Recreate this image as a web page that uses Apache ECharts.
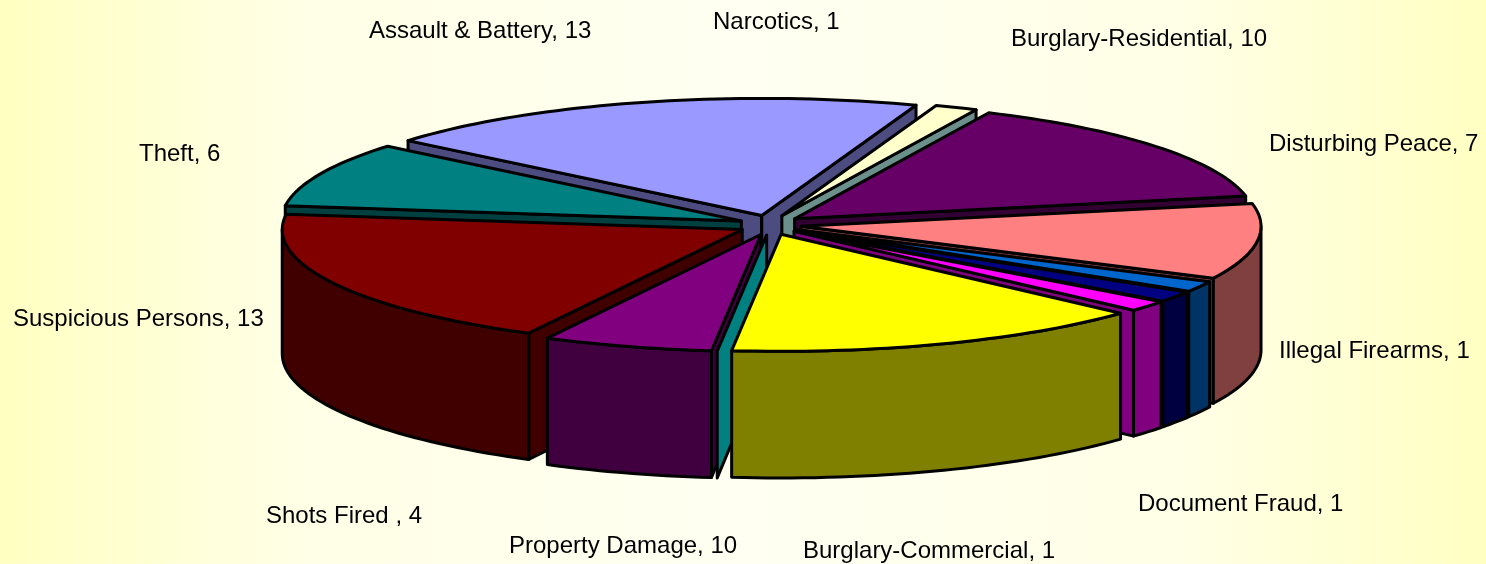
<!DOCTYPE html>
<html>
<head>
<meta charset="utf-8">
<style>
  html, body { margin: 0; padding: 0; }
  #chart { width: 1486px; height: 564px; }
</style>
<script src="https://cdn.jsdelivr.net/npm/echarts@6/dist/echarts.min.js"></script>
</head>
<body>
<div id="chart"></div>
<script>
// clockwise from the narrow cream slice at the back
// the cyan slice has no label and no width, only its side wall shows
const categories = ['Narcotics', 'Burglary-Residential', 'Disturbing Peace', 'Illegal Firearms',
  'Document Fraud', 'Burglary-Commercial', 'Property Damage', '', 'Shots Fired ',
  'Suspicious Persons', 'Theft', 'Assault & Battery']
const values = [1, 10, 7, 1, 1, 1, 10, 0, 4, 13, 6, 13]

const topColors = ['#FFFFCC', '#660066', '#FF8080', '#0066CC', '#000080', '#FF00FF',
  '#FFFF00', '#00FFFF', '#800080', '#800000', '#008080', '#9999FF']
const wallColors = ['#6B8F8A', '#330033', '#804040', '#003366', '#000040', '#800080',
  '#808000', '#008080', '#400040', '#400000', '#004040', '#4C4C80']

// paint order, back to front
const drawOrder = [11, 0, 1, 10, 2, 9, 3, 4, 5, 8, 7, 6]

// label anchors (left, middle) in page pixels
const labelX = [713, 1011, 1269, 1279, 1138, 803, 509, 0, 266, 13, 139, 369]
const labelY = [22, 39, 144, 351, 504, 551, 546, 0, 516, 319, 154, 31]

const startAngle = 19.6
const centerX = 770
const centerY = 225
const radiusX = 460
const radiusY = 117
const depth = 124
const explodeX = 0.068
const explodeY = 0.085
const depthGrow = 0.02
const arcStep = 1.5

const total = values.reduce((a, b) => a + b, 0)
const rad = d => d * Math.PI / 180

const startAngles = []
let acc = startAngle
values.forEach(v => {
  startAngles.push(acc)
  acc += v / total * 360
})

const renderSlice = (params, api) => {
  const i = api.value(0)
  const value = api.value(1)
  const a0 = startAngles[i]
  const a1 = a0 + value / total * 360
  const mid = rad((a0 + a1) / 2)
  const ox = explodeX * Math.sin(mid)
  const oy = -explodeY * Math.cos(mid)

  // r, angle (deg), drop from top face
  const project = (r, a, h) => {
    const X = ox + r * Math.sin(rad(a))
    const Y = oy - r * Math.cos(rad(a))
    return [centerX + radiusX * X, centerY + radiusY * Y + h * (1 + depthGrow * Y)]
  }

  const arc = (from, to, h) => {
    const pts = []
    const n = Math.max(1, Math.ceil((to - from) / arcStep))
    for (let k = 0; k <= n; k++) pts.push(project(1, from + (to - from) * k / n, h))
    return pts
  }

  const order = params.dataIndex * 5
  const poly = (points, fill, z) => ({
    type: 'polygon',
    z2: order + z,
    shape: { points },
    style: { fill, stroke: '#000', lineWidth: 3, lineJoin: 'round' }
  })

  const children = []
  // radial side walls that face the viewer
  if (Math.sin(rad(a0)) < 0) {
    children.push(poly([project(0, a0, 0), project(1, a0, 0), project(1, a0, depth), project(0, a0, depth)], wallColors[i], 0))
  }
  if (Math.sin(rad(a1)) > 0) {
    children.push(poly([project(0, a1, 0), project(1, a1, 0), project(1, a1, depth), project(0, a1, depth)], wallColors[i], 1))
  }
  // rim, front half only
  const rimFrom = Math.max(a0, 90)
  const rimTo = Math.min(a1, 270)
  if (rimTo > rimFrom) {
    children.push(poly(arc(rimFrom, rimTo, 0).concat(arc(rimFrom, rimTo, depth).reverse()), wallColors[i], 2))
  }
  // top face, nothing to fill for the zero slice
  if (value > 0) {
    children.push(poly([project(0, a0, 0)].concat(arc(a0, a1, 0)), topColors[i], 3))
  }

  return { type: 'group', children }
}

const chart = echarts.init(document.getElementById('chart'))

chart.setOption({
  animation: false,
  backgroundColor: new echarts.graphic.LinearGradient(0, 0, 1, 0, [
    { offset: 0, color: '#FFFFC2' },
    { offset: 0.2, color: '#FFFFE6' },
    { offset: 0.5, color: '#FFFFF2' },
    { offset: 0.8, color: '#FFFFE6' },
    { offset: 1, color: '#FFFFC2' }
  ]),
  series: [{
    type: 'custom',
    coordinateSystem: 'none',
    renderItem: renderSlice,
    data: drawOrder.map(i => [i, values[i]]),
    silent: true
  }],
  graphic: categories.filter(name => name !== '').map(name => {
    const i = categories.indexOf(name)
    return {
      type: 'text',
      x: labelX[i],
      y: labelY[i],
      silent: true,
      style: {
        text: name + ', ' + values[i],
        fill: '#000',
        font: '24px "Liberation Sans", sans-serif',
        verticalAlign: 'middle',
        align: 'left'
      }
    }
  })
})
</script>
</body>
</html>
